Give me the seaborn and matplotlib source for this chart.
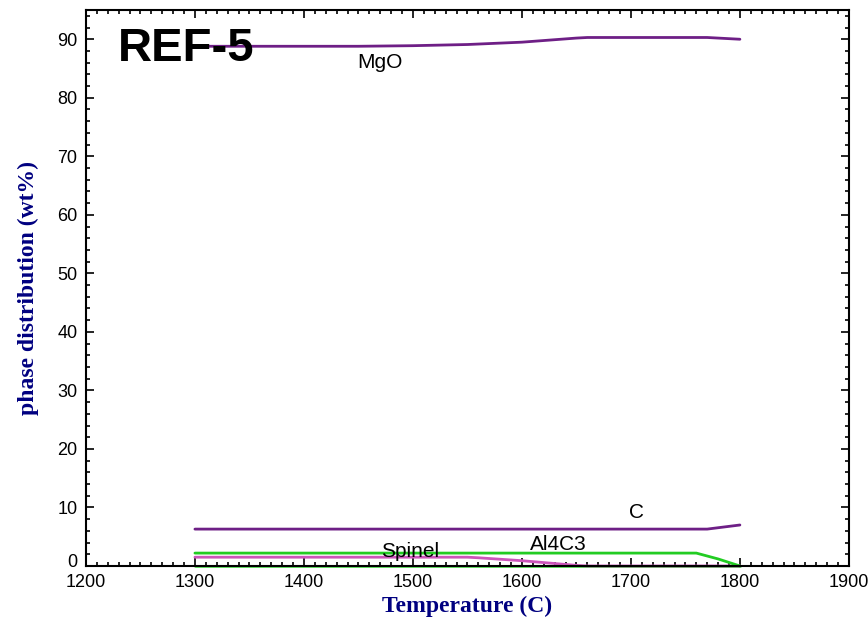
import numpy as np
import pandas as pd
import matplotlib
matplotlib.use("Agg")
import matplotlib.pyplot as plt
from matplotlib.ticker import MultipleLocator
from matplotlib.transforms import ScaledTranslation
import seaborn as sns

# temperatures (C) and phase amounts (wt%)
temp_mgo = [1300, 1350, 1400, 1450, 1500, 1550, 1600, 1650, 1660, 1700, 1770, 1800]
mgo = [88.8, 88.8, 88.8, 88.8, 88.9, 89.1, 89.5, 90.2, 90.3, 90.3, 90.3, 90.0]

temp_c = [1300, 1400, 1500, 1600, 1700, 1770, 1800]
carbon = [6.3, 6.3, 6.3, 6.3, 6.3, 6.3, 7.0]

temp_al4c3 = [1300, 1400, 1500, 1600, 1700, 1760, 1780, 1800]
al4c3 = [2.2, 2.2, 2.2, 2.2, 2.2, 2.2, 1.2, 0.0]

temp_spinel = [1300, 1400, 1500, 1550, 1560, 1600, 1650, 1660, 1700, 1800]
spinel = [1.5, 1.5, 1.5, 1.5, 1.4, 0.9, 0.1, 0.0, 0.0, 0.0]

temp_zero = [1300, 1800]
zero_phase = [0.0, 0.0]

sns.set_style("ticks")
plt.rcParams['font.family'] = ['Liberation Sans', 'DejaVu Sans']
plt.rcParams.update({"text.color": "black", "axes.labelcolor": "black",
                     "xtick.color": "black", "ytick.color": "black",
                     "axes.edgecolor": "black"})

fig, ax = plt.subplots(figsize=(8.68, 6.24), dpi=100)
fig.subplots_adjust(left=0.099, right=0.978, bottom=0.093, top=0.984)

series = [
    (temp_zero, zero_phase, "#55dd55"),
    (temp_spinel, spinel, "#cc55bb"),
    (temp_al4c3, al4c3, "#22cc22"),
    (temp_c, carbon, "#6e1f86"),
    (temp_mgo, mgo, "#6e1f86"),
]
for t, v, col in series:
    df = pd.DataFrame({"T": t, "wt": v})
    sns.lineplot(data=df, x="T", y="wt", color=col, linewidth=2, ax=ax,
                 clip_on=False)

ax.set_xlim(1200, 1900)
ax.set_ylim(0, 95)
ax.xaxis.set_major_locator(MultipleLocator(100))
ax.xaxis.set_minor_locator(MultipleLocator(10))
ax.yaxis.set_major_locator(MultipleLocator(10))
ax.yaxis.set_minor_locator(MultipleLocator(2))
ax.tick_params(which="both", direction="in", top=True, right=True,
               labelsize=13, width=1.2)
ax.tick_params(which="major", length=6, pad=6)
ax.tick_params(which="minor", length=3)
for s in ax.spines.values():
    s.set_linewidth(1.5)

ax.set_xlabel("Temperature (C)", family="Liberation Serif", fontweight="bold",
              fontsize=17, color="#000080", labelpad=3)
ax.set_ylabel("phase distribution (wt%)", family="Liberation Serif",
              fontweight="bold", fontsize=17, color="#000080", labelpad=13)

ax.text(1229, 88.4, "REF-5", fontsize=34, fontweight="bold", ha="left", va="center")
ax.text(1470, 86.0, "MgO", fontsize=15, ha="center", va="center")
ax.text(1705, 9.1, "C", fontsize=15, ha="center", va="center")
ax.text(1633, 3.6, "Al4C3", fontsize=15, ha="center", va="center")
ax.text(1497, 2.4, "Spinel", fontsize=15, ha="center", va="center")

# lift the "0" label a little so it clears "1200", as in the original
fig.canvas.draw()
for lab in ax.get_yticklabels():
    if lab.get_text() == "0":
        lab.set_transform(lab.get_transform()
                          + ScaledTranslation(0, 0.05, fig.dpi_scale_trans))

fig.savefig("out.png", dpi=100)
